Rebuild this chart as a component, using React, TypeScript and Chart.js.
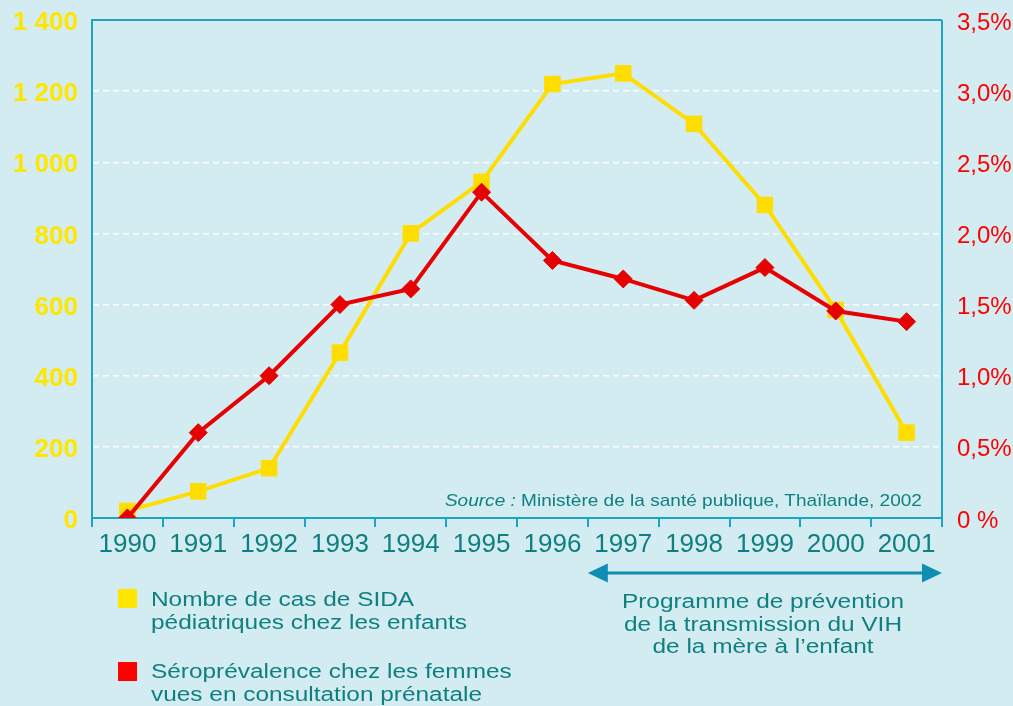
import React, { useEffect, useRef } from 'react';
import { Chart, registerables } from 'chart.js';

Chart.register(...registerables);

const years = ['1990', '1991', '1992', '1993', '1994', '1995', '1996', '1997', '1998', '1999', '2000', '2001'];
const pediatricCases = [20, 75, 140, 465, 800, 945, 1220, 1250, 1108, 880, 585, 240];
const prevalence = [0, 0.6, 1.0, 1.5, 1.61, 2.29, 1.81, 1.68, 1.53, 1.76, 1.455, 1.38];
const leftMax = 1400;
const leftStep = 200;
const rightMax = 3.5;
const rightStep = 0.5;
const programFromIndex = 7; // 1997
const programToIndex = 11; // 2001

const legendCases = ['Nombre de cas de SIDA', 'pédiatriques chez les enfants'];
const legendPrev = ['Séroprévalence chez les femmes', 'vues en consultation prénatale'];
const programLines = ['Programme de prévention', 'de la transmission du VIH', 'de la mère à l\u2019enfant'];

const BG = '#d3ecf1';
const FRAME = '#1ba5c2';
const TEAL = '#0f7f80';
const YELLOW = '#ffdd00';
const RED = '#e60000';
const ARROW = '#0f8db3';
const FONT = '"Liberation Sans", Arial, Helvetica, sans-serif';

const framePlugin = {
  id: 'frameArrow',
  beforeDatasetsDraw(chart: any) {
    const { ctx, chartArea } = chart;
    ctx.save();
    ctx.strokeStyle = FRAME;
    ctx.lineWidth = 2;
    ctx.beginPath();
    ctx.moveTo(chartArea.left, chartArea.top);
    ctx.lineTo(chartArea.right, chartArea.top);
    ctx.moveTo(chartArea.right, chartArea.top);
    ctx.lineTo(chartArea.right, chartArea.bottom);
    ctx.stroke();
    ctx.restore();
  },
  afterDraw(chart: any) {
    const { ctx } = chart;
    const x = chart.scales.x;
    const x0 = x.getPixelForValue(programFromIndex - 0.5);
    const x1 = x.getPixelForValue(programToIndex + 0.5);
    const y = 573;
    const head = 20;
    const half = 9.5;
    ctx.save();
    ctx.strokeStyle = ARROW;
    ctx.fillStyle = ARROW;
    ctx.lineWidth = 3;
    ctx.beginPath();
    ctx.moveTo(x0 + head - 2, y);
    ctx.lineTo(x1 - head + 2, y);
    ctx.stroke();
    ctx.beginPath();
    ctx.moveTo(x0, y);
    ctx.lineTo(x0 + head, y - half);
    ctx.lineTo(x0 + head, y + half);
    ctx.closePath();
    ctx.fill();
    ctx.beginPath();
    ctx.moveTo(x1, y);
    ctx.lineTo(x1 - head, y - half);
    ctx.lineTo(x1 - head, y + half);
    ctx.closePath();
    ctx.fill();
    ctx.restore();
  },
};

function fmtLeft(v: number) {
  return String(v).replace(/\B(?=(\d{3})+(?!\d))/g, ' ');
}
function fmtRight(v: number) {
  if (v === 0) return '0 %';
  return v.toFixed(1).replace('.', ',') + '%';
}

export default function App() {
  const ref = useRef<HTMLCanvasElement | null>(null);

  useEffect(() => {
    document.body.style.margin = '0';
    const canvas = ref.current!;
    const chart = new Chart(canvas, {
      type: 'line',
      data: {
        labels: years,
        datasets: [
          {
            label: 'Nombre de cas de SIDA pédiatriques chez les enfants',
            data: pediatricCases,
            yAxisID: 'y',
            borderColor: YELLOW,
            backgroundColor: YELLOW,
            borderWidth: 4,
            pointStyle: 'rect',
            pointRadius: 11,
            pointHoverRadius: 11,
            pointBorderWidth: 1,
            pointBorderColor: YELLOW,
            pointBackgroundColor: YELLOW,
            tension: 0,
            order: 2,
          },
          {
            label: 'Séroprévalence chez les femmes vues en consultation prénatale',
            data: prevalence,
            yAxisID: 'y1',
            borderColor: RED,
            backgroundColor: RED,
            borderWidth: 4,
            pointStyle: 'rectRot',
            pointRadius: 9,
            pointHoverRadius: 9,
            pointBorderWidth: 1,
            pointBorderColor: RED,
            pointBackgroundColor: RED,
            tension: 0,
            order: 1,
          },
        ],
      },
      options: {
        responsive: false,
        animation: false,
        devicePixelRatio: 1,
        layout: { padding: { top: 20, left: 0, right: 0, bottom: 0 } },
        plugins: {
          legend: { display: false },
          tooltip: { enabled: false },
        },
        scales: {
          x: {
            type: 'category',
            offset: true,
            grid: {
              offset: true,
              drawOnChartArea: false,
              drawTicks: true,
              tickLength: 9,
              color: FRAME,
              lineWidth: 2,
            },
            border: { color: FRAME, width: 2 },
            ticks: {
              color: TEAL,
              font: { family: FONT, size: 26 },
              padding: 2,
              autoSkip: false,
              maxRotation: 0,
            },
            afterFit(scale: any) {
              scale.height = 188;
              scale.paddingLeft = 0;
              scale.paddingRight = 0;
            },
          },
          y: {
            position: 'left',
            min: 0,
            max: leftMax,
            ticks: {
              stepSize: leftStep,
              color: '#ffe600',
              font: { family: FONT, size: 26, weight: 'bold' },
              padding: 14,
              labelOffset: 3,
              callback: (v: any) => fmtLeft(Number(v)),
            },
            grid: {
              color: 'rgba(255,255,255,0.9)',
              lineWidth: 1.5,
              drawTicks: false,
            },
            border: { color: FRAME, width: 2, dash: [6, 4] },
            afterFit(scale: any) {
              scale.width = 92;
              scale.paddingTop = 0;
              scale.paddingBottom = 0;
            },
          },
          y1: {
            position: 'right',
            min: 0,
            max: rightMax,
            ticks: {
              stepSize: rightStep,
              color: '#ff0000',
              font: { family: FONT, size: 24 },
              padding: 15,
              labelOffset: 3,
              callback: (v: any) => fmtRight(Number(v)),
            },
            grid: { drawOnChartArea: false, drawTicks: false },
            border: { display: false },
            afterFit(scale: any) {
              scale.width = 71;
              scale.paddingTop = 0;
              scale.paddingBottom = 0;
            },
          },
        },
      } as any,
      plugins: [framePlugin],
    });
    return () => chart.destroy();
  }, []);

  const textStyle: React.CSSProperties = {
    position: 'absolute',
    fontFamily: FONT,
    color: TEAL,
    fontSize: 20,
    lineHeight: '22.5px',
    whiteSpace: 'nowrap',
    transform: 'scaleX(1.22)',
    transformOrigin: 'left top',
  };

  return (
    <div style={{ position: 'fixed', left: 0, top: 0, width: 1013, height: 706, background: BG, overflow: 'hidden' }}>
      <canvas ref={ref} width={1013} height={706} style={{ position: 'absolute', left: 0, top: 0, width: 1013, height: 706 }} />
      <div style={{ ...textStyle, fontSize: 17, lineHeight: '20px', right: 91, top: 491, transform: 'scaleX(1.12)', transformOrigin: 'right top' }}>
        <i>Source :</i> Ministère de la santé publique, Thaïlande, 2002
      </div>
      <div style={{ position: 'absolute', left: 118, top: 589, width: 19, height: 19, background: '#ffe600' }} />
      <div style={{ ...textStyle, left: 151, top: 588 }}>
        {legendCases.map((l) => (<div key={l}>{l}</div>))}
      </div>
      <div style={{ position: 'absolute', left: 118, top: 662, width: 19, height: 19, background: '#ff0000' }} />
      <div style={{ ...textStyle, left: 151, top: 660 }}>
        {legendPrev.map((l) => (<div key={l}>{l}</div>))}
      </div>
      <div style={{ ...textStyle, left: 763, width: 0, top: 590, transform: 'scaleX(1.22)', transformOrigin: 'center top' }}>
        {programLines.map((l) => (
          <div key={l} style={{ position: 'relative', width: 0, display: 'flex', justifyContent: 'center', height: 22.5 }}>
            <span>{l}</span>
          </div>
        ))}
      </div>
    </div>
  );
}
